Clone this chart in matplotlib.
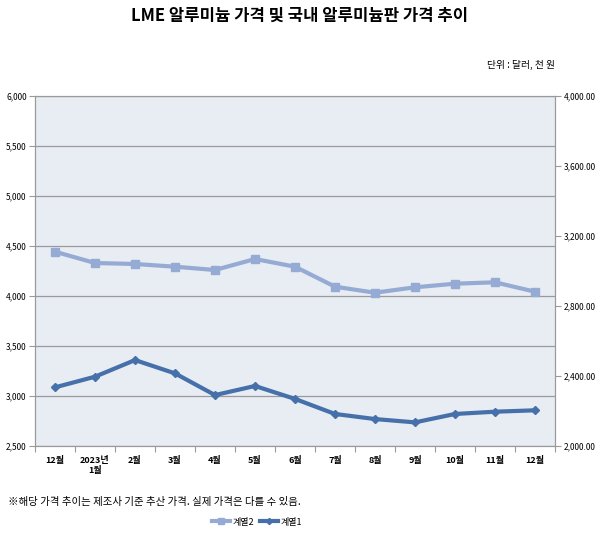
import matplotlib
matplotlib.use("Agg")
import matplotlib.pyplot as plt
from matplotlib.ticker import FuncFormatter, MultipleLocator

plt.rcParams['font.family'] = ['Noto Sans CJK KR', 'DejaVu Sans']

months = ['12월', '2023년\n1월', '2월', '3월', '4월', '5월', '6월',
          '7월', '8월', '9월', '10월', '11월', '12월']
# 계열2: 국내 알루미늄판 (천 원, left axis)
series2 = [4443, 4330, 4320, 4293, 4260, 4370, 4293,
           4093, 4033, 4087, 4123, 4137, 4043]
# 계열1: LME 알루미늄 (달러, right axis)
series1 = [2335, 2396, 2491, 2415, 2291, 2343, 2269,
           2183, 2154, 2135, 2183, 2196, 2204]

light = '#95ABD4'
dark = '#4670AA'
grid_c = '#9A9A9A'

fig = plt.figure(figsize=(6.0, 5.37), dpi=100)
ax = fig.add_axes([35 / 600, 1 - 446 / 537, 520 / 600, 350 / 537])
ax2 = ax.twinx()

x = list(range(len(months)))
ax.set_facecolor('#E8ECF3')
l2, = ax.plot(x, series2, color=light, lw=3, marker='s', ms=6, zorder=3)
l1, = ax2.plot(x, series1, color=dark, lw=3, marker='D', ms=4.5, zorder=3)

ax.set_xlim(-0.5, len(months) - 0.5)
ax.set_ylim(2500, 6000)
ax.yaxis.set_major_locator(MultipleLocator(500))
ax.yaxis.set_major_formatter(FuncFormatter(lambda v, p: f'{v:,.0f}'))
ax.grid(axis='y', color=grid_c, lw=0.9)
ax.set_axisbelow(True)

ax2.set_ylim(2000, 4000)
ax2.yaxis.set_major_locator(MultipleLocator(400))
ax2.yaxis.set_major_formatter(FuncFormatter(lambda v, p: f'{v:,.2f}'))

ax.set_xticks([i - 0.5 for i in range(len(months) + 1)])
ax.set_xticklabels([])
ax.set_xticks(x, minor=True)
ax.set_xticklabels(months, minor=True, fontsize=6.5, fontweight='bold', va='top')
ax.tick_params(axis='x', which='minor', length=0, pad=7)
ax.tick_params(axis='x', which='major', length=4, color=grid_c, direction='out')
ax.tick_params(axis='y', length=4, color=grid_c, labelsize=6, pad=2)
ax2.tick_params(axis='y', length=4, color=grid_c, labelsize=6, pad=2)

for a in (ax, ax2):
    for s in a.spines.values():
        s.set_color(grid_c)
        s.set_linewidth(0.8)

fig.text(0.5, 1 - 16 / 537, 'LME 알루미늄 가격 및 국내 알루미늄판 가격 추이',
         ha='center', va='center', fontsize=12, fontweight='bold')
fig.text(555 / 600, 1 - 65 / 537, '단위 : 달러, 천 원', ha='right', va='center', fontsize=7)
fig.text(8 / 600, 1 - 502 / 537, '※해당 가격 추이는 제조사 기준 추산 가격. 실제 가격은 다를 수 있음.',
         ha='left', va='center', fontsize=7.5)

fig.legend([l2, l1], ['계열2', '계열1'], loc='center', bbox_to_anchor=(257 / 600, 1 - 522 / 537),
           ncol=2, frameon=False, fontsize=6.5, handlelength=2, columnspacing=0.6,
           handletextpad=0.3, markerscale=0.7)

fig.savefig('out.png', dpi=100, facecolor='white')
